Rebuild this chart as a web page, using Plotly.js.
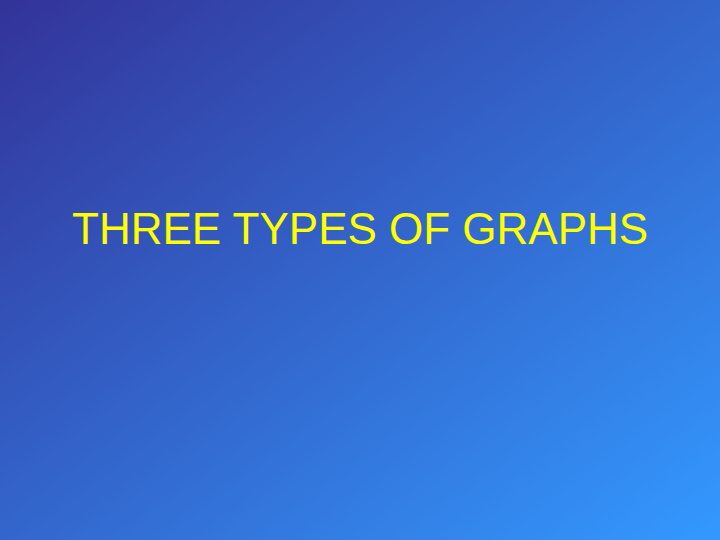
<!DOCTYPE html>
<html>
<head>
<meta charset="utf-8">
<script src="https://cdn.plot.ly/plotly-3.0.1.min.js"></script>
<style>
  html, body { margin: 0; padding: 0; }
  body {
    width: 720px; height: 540px; overflow: hidden;
    background: linear-gradient(to bottom right, #333399, #3399ff);
  }
  #chart { width: 720px; height: 540px; }
</style>
</head>
<body>
<div id="chart"></div>
<script>
// slide text
const slideTitle = 'THREE TYPES OF GRAPHS';
const titleColor = '#ffff00';

const layout = {
  width: 720,
  height: 540,
  margin: { l: 0, r: 0, t: 0, b: 0 },
  paper_bgcolor: 'rgba(0,0,0,0)',
  plot_bgcolor: 'rgba(0,0,0,0)',
  showlegend: false,
  xaxis: { visible: false, range: [0, 1], fixedrange: true },
  yaxis: { visible: false, range: [0, 1], fixedrange: true },
  annotations: [{
    text: slideTitle,
    xref: 'paper', yref: 'paper',
    x: 0.5, y: 1 - 228 / 540,
    xanchor: 'center', yanchor: 'middle',
    showarrow: false,
    font: { family: 'Liberation Sans, Arial, sans-serif', size: 44, color: titleColor },
  }],
};

Plotly.newPlot('chart', [], layout, { displayModeBar: false, staticPlot: true });
</script>
</body>
</html>
